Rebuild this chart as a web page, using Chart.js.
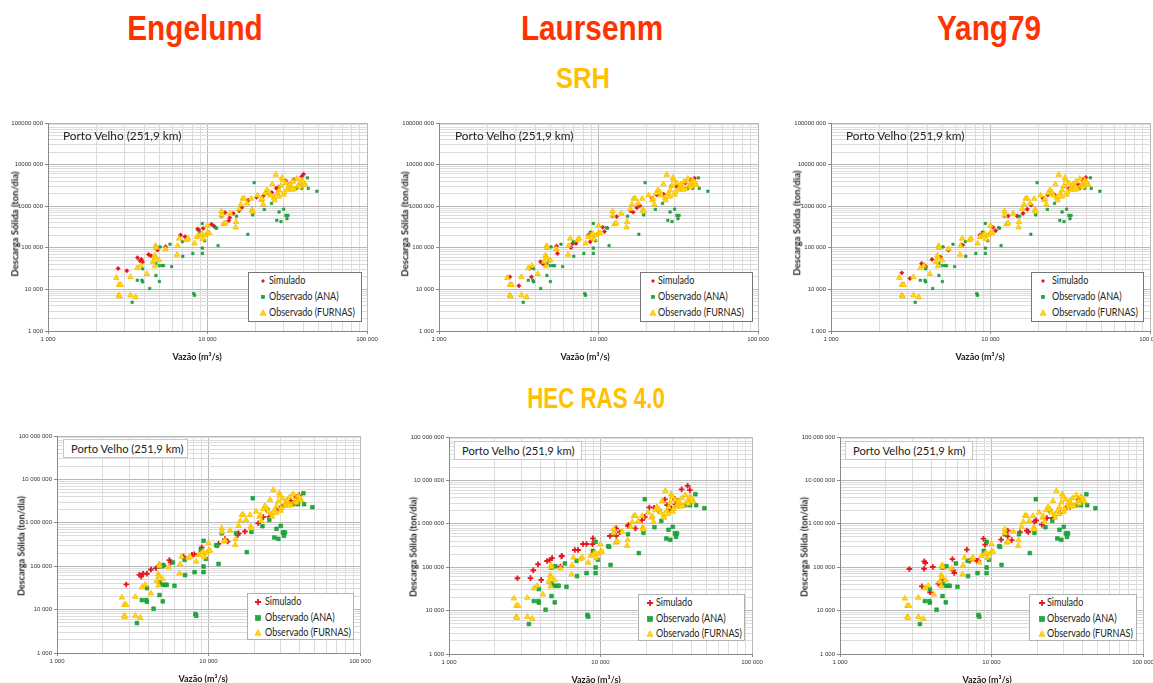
<!DOCTYPE html>
<html><head><meta charset="utf-8">
<script src="https://cdn.jsdelivr.net/npm/chart.js@4/dist/chart.umd.min.js"></script>
<style>
html,body{margin:0;padding:0;background:#fff;}
body{width:1153px;height:683px;overflow:hidden;position:relative;font-family:Lato,"Liberation Sans",sans-serif;}
canvas{position:absolute;}
.big{position:absolute;font-family:"Liberation Sans",Arial,sans-serif;font-weight:bold;white-space:nowrap;transform:translate(-50%,-50%) scaleX(0.85);line-height:1;}
.red{color:#FF3300;font-size:35px;}
.yel{color:#FFC000;font-size:30px;}
.pv{position:absolute;white-space:nowrap;color:#222;background:#fff;line-height:1;}
.leg{position:absolute;background:#fff;border:1px solid #777;box-sizing:border-box;}
.lr{position:absolute;white-space:nowrap;color:#222;line-height:1;transform-origin:0 50%;transform:scaleX(0.86);}
.ytit,.xtit{position:absolute;white-space:nowrap;font-weight:bold;color:#222;line-height:1;}
.ytit{transform:translate(-50%,-50%) rotate(-90deg);}
.xtit{transform:translate(-50%,-50%);}
svg{position:absolute;overflow:visible;}
</style></head><body>
<div class="big red" style="left:195px;top:27px">Engelund</div>
<div class="big red" style="left:592px;top:27px">Laursenm</div>
<div class="big red" style="left:989px;top:27px">Yang79</div>
<div class="big yel" style="left:583px;top:78px">SRH</div>
<div class="big yel" style="left:596px;top:398px;font-size:29px;transform:translate(-50%,-50%) scaleX(0.77)">HEC RAS 4.0</div>
<script>
// ---------- DATA ----------
// Observed data (same in all panels)
const anaQ  = [3370,3630,3920,3920,3880,4340,4750,4750,4750,4990,4990,5040,5200,5300,5820,5960,6950,7000,8090,8200,8300,8900,9280,9280,9280,9600,11240,11400,11650,12240,15200,17900,19200,19600,22700,25200,27200,28100,28900,30000,31000,32000,31500,36300,39000,42300,42800,48500,24500];
const anaQs = [4900,16600,31300,15200,16600,10500,21600,42300,98000,15500,37300,105000,37300,37300,122000,35400,140000,62300,73000,7900,7200,238000,384000,98600,73000,148000,305000,295000,113000,576000,576000,211000,617000,3680000,835000,1170000,459000,727000,427000,850000,600000,600000,500000,2680000,2680000,4800000,2680000,2290000,2000000];
const furQ  = [2680,2780,2860,2780,2810,3290,3290,3545,3630,3820,4170,4560,4680,4660,4700,4730,4750,4970,5450,6440,6500,6640,7380,7560,8300,8590,8990,9230,9360,9700,10000,10000,10250,12240,12240,12600,13900,15000,15100,15800,16200,16600,17000,17700,18800,19000,19200,20600,21700,22400,23000,23600,24300,24800,25500,26100,26300,26800,27400,28100,28900,29300,29600,30000,30300,31000,32000,32300,32800,33600,34300,35000,36300,37000,37600,39000,39500,41000,12900,22000,28000,34000,38000,40000];
const furQs = [19000,12900,12900,7200,6800,19800,7200,6500,32500,37300,23600,46100,36000,65600,58000,111600,100000,50500,93500,68000,111600,167000,153000,167000,128000,183000,200000,217000,162000,200000,340000,230000,228000,752000,608000,370000,663000,310000,420000,850000,1100000,1520000,1540000,1170000,1520000,820000,740000,1820000,1390000,1100000,2060000,2450000,2160000,1820000,3370000,1600000,1390000,5700000,2000000,2400000,3100000,4800000,4200000,1900000,2200000,3600000,2800000,2500000,3300000,2800000,3900000,2600000,4600000,3100000,3300000,4200000,3500000,3300000,390000,1500000,1700000,2500000,2900000,3800000];
// Simulated series
const engSrhQ  = [2750,3120,3640,3780,3850,3920,4270,4420,4860,5460,6780,7220,8670,8790,9390,10600,10980,12880,13600,13800,14500,15800,16400,18000,20300,22400,23900,25300,27000,28000,31000,32700,34700,39000,40000];
const engSrhQs = [31900,28000,57600,48600,52500,46000,69300,64400,88200,106000,203000,185000,283000,269000,293000,367000,334000,701000,450000,530000,670000,783000,925000,1390000,1640000,1770000,2250000,2140000,2700000,2850000,4060000,3400000,4300000,5200000,5900000];
const lauSrhQ  = [2780,3170,3710,3800,4330,4460,4600,4950,5460,5530,6720,6890,7230,8640,8870,10640,10910,13000,15950,16500,17400,18200,21700,23200,25600,28700,31000,35000,37700,40000];
const lauSrhQs = [20000,12200,31900,20000,46100,42000,40000,50500,110000,73000,102000,127000,127000,203000,140000,310000,245000,562000,770000,720000,920000,1030000,1550000,1870000,1940000,3100000,2960000,3600000,4300000,4700000];
const yanSrhQ  = [2780,3130,3700,3850,3930,4300,4870,5450,6590,6690,8580,8660,10370,10770,12900,14700,16000,17000,18000,21300,22900,25200,29000,31000,35300,37800,39600];
const yanSrhQs = [25000,18300,42000,38000,35000,52500,59800,88000,116000,116000,203000,185000,310000,258000,582000,582000,670000,843000,1070000,1550000,1870000,1870000,3070000,2700000,3400000,4300000,4900000];
const engHecQ  = [2865,3500,3600,3700,3920,4170,4500,5040,5520,5620,6850,7780,8070,9020,11640,12850,13400,15600,15800,17400,21300,23000,25200,28100,30500,32000,34900,38000,39600];
const engHecQs = [38000,63000,58000,67000,67000,84000,90000,103000,138000,122000,167000,183000,189000,270000,327000,420000,370000,527000,570000,630000,980000,1350000,1390000,2000000,2370000,2600000,3200000,3900000,4300000];
const lauHecQ  = [2830,3450,3600,3870,4060,4440,4620,4790,5440,5520,5560,6770,7110,7660,8080,8850,8920,11530,12700,12700,13400,15200,15300,17000,18800,19600,21000,22600,26600,27500,28300,29300,31000,31300,34300,37600,38900];
const lauHecQs = [55700,56000,85000,117000,51000,139000,147000,162000,103000,177000,183000,249000,249000,342000,342000,340000,462000,523000,784000,530000,640000,887000,940000,784000,1220000,1450000,2380000,2350000,3640000,2690000,2150000,2270000,3700000,2800000,6200000,7500000,6000000];
const yanHecQ  = [2870,3590,3600,3660,4100,3470,3930,4460,4760,5520,5600,5680,6870,7200,7980,8180,8850,9070,11580,12800,12800,13600,15400,17100,17500,19200,19700,21500,23200,25400,28300,31400,33000,37500,39400];
const yanHecQs = [90800,92000,136000,125000,101000,36300,26400,41700,53500,154000,84700,73500,254000,141000,141000,141000,454000,330000,431000,514000,695000,420000,640000,695000,650000,1120000,1200000,955000,1360000,1360000,1770000,2440000,2440000,3600000,3900000];
// Tick labels
const xTickValues = [1000,10000,100000];
const xTickLabels = ['1 000','10 000','100 000'];
const yTickValues = [1e3,1e4,1e5,1e6,1e7,1e8];
const yTickLabelsSrh = ['1 000','10 000','100 000','1000 000','10000 000','100000 000'];
const yTickLabelsHec = ['1 000','10 000','100 000','1 000 000','10 000 000','100 000 000'];
// Texts
const seriesNames = ['Simulado','Observado (ANA)','Observado (FURNAS)'];
const stationText = 'Porto Velho (251,9 km)';
const yTitleText = 'Descarga Sólida (ton/dia)';
const xTitleText = 'Vazão (m³/s)';

// ---------- LAYOUT ----------
const panels = [
 {L:48,R:367,T:123,B:331,q:engSrhQ,qs:engSrhQs,yl:yTickLabelsSrh,big:false,
  leg:[248,272,114,50],mx:15,tx:21,r0:9,rs:16,pv:[63,137],box:false,yt:[15,224],xt:[197,356]},
 {L:439,R:758,T:123,B:331,q:lauSrhQ,qs:lauSrhQs,yl:yTickLabelsSrh,big:false,
  leg:[640,272,113,50],mx:13,tx:18,r0:9,rs:16,pv:[455,137],box:false,yt:[405,224],xt:[585,356]},
 {L:831,R:1150,T:123,B:331,q:yanSrhQ,qs:yanSrhQs,yl:yTickLabelsSrh,big:false,
  leg:[1031,272,113,50],mx:12,tx:21,r0:9,rs:16,pv:[846,137],box:false,yt:[797,223],xt:[980,356]},
 {L:57,R:360,T:436,B:653,q:engHecQ,qs:engHecQs,yl:yTickLabelsHec,big:true,
  leg:[247,593,107,47],mx:11,tx:18,r0:9,rs:15.5,pv:[63,439,125,19],box:true,yt:[21,546],xt:[203,678]},
 {L:449,R:752,T:437,B:654,q:lauHecQ,qs:lauHecQs,yl:yTickLabelsHec,big:true,
  leg:[638,594,107,47],mx:12,tx:18,r0:9,rs:15.5,pv:[454,441,128,19],box:true,yt:[413,547],xt:[596,679]},
 {L:840,R:1143,T:437,B:654,q:yanHecQ,qs:yanHecQs,yl:yTickLabelsHec,big:true,
  leg:[1029,594,108,47],mx:13,tx:18,r0:9,rs:15.5,pv:[845,441,128,19],box:true,yt:[804,547],xt:[987,679]},
];
const PL=52, PT=10, PR=22, PB=22;
const RED='#E8161E', GREEN='#1DAE3F', GREEN_B='#12912F', YEL='#FFDD00', YEL_B='#F5B400';

function isDecade(v){const l=Math.log10(v);return Math.abs(l-Math.round(l))<1e-6;}
function logTicks(min,max){const t=[];for(let e=Math.round(Math.log10(min));e<Math.round(Math.log10(max));e++){for(let m=1;m<10;m++)t.push({value:m*Math.pow(10,e)});}t.push({value:max});return t;}
function labelFor(vals,labs,v){const i=vals.findIndex(x=>Math.abs(x-v)<1e-6*x);return i>=0?labs[i]:'';}
function pts(a,b){return a.map((x,i)=>({x:x,y:b[i]}));}

function makeSvg(kind,big,cx,cy){
  const ns='http://www.w3.org/2000/svg';
  const s=document.createElementNS(ns,'svg');
  s.setAttribute('width','10');s.setAttribute('height','10');
  s.style.left=(cx-5)+'px';s.style.top=(cy-5)+'px';
  let inner='';
  if(kind===0){
    inner = big ? `<path d="M5 2V8M2 5H8" stroke="${RED}" stroke-width="1.8"/>` : `<path d="M5 3L7 5L5 7L3 5Z" fill="${RED}"/>`;
  } else if(kind===1){
    const h = big?2.5:1.6;
    inner = `<rect x="${5-h}" y="${5-h}" width="${2*h}" height="${2*h}" fill="${GREEN}" stroke="${GREEN_B}" stroke-width="0.6"/>`;
  } else {
    inner = `<path d="M5 1.8L8 7.2H2Z" fill="${YEL}" stroke="${YEL_B}" stroke-width="0.7"/>`;
  }
  s.innerHTML=inner;
  return s;
}

panels.forEach(p=>{
  const w=p.R-p.L+PL+PR, h=p.B-p.T+PT+PB;
  const cv=document.createElement('canvas');
  cv.width=w;cv.height=h;cv.style.width=w+'px';cv.style.height=h+'px';
  cv.style.left=(p.L-PL)+'px';cv.style.top=(p.T-PT)+'px';
  document.body.appendChild(cv);
  const tickFont={family:'"Liberation Sans", Arial, sans-serif',size:6};
  const gridCol=c=>(c.tick&&isDecade(c.tick.value))?'#b9b9b9':'#dcdcdc';
  const tickCol=c=>(c.tick&&isDecade(c.tick.value))?'#8a8a8a':'rgba(0,0,0,0)';
  new Chart(cv,{
    type:'scatter',
    data:{datasets:[
      {label:seriesNames[2],data:pts(furQ,furQs),pointStyle:'triangle',pointRadius:3.2,
       backgroundColor:YEL,borderColor:YEL_B,borderWidth:0.7,order:0},
      {label:seriesNames[1],data:pts(anaQ,anaQs),pointStyle:'rect',pointRadius:p.big?2.6:1.7,
       backgroundColor:GREEN,borderColor:GREEN_B,borderWidth:0.6,order:1},
      {label:seriesNames[0],data:pts(p.q,p.qs),pointStyle:p.big?'cross':'rectRot',pointRadius:p.big?2.8:2.2,
       backgroundColor:RED,borderColor:RED,borderWidth:p.big?1.8:0.5,order:2},
    ]},
    options:{
      responsive:false,animation:false,devicePixelRatio:1,
      layout:{padding:{left:0,top:PT,right:PR,bottom:0}},
      plugins:{legend:{display:false},tooltip:{enabled:false}},
      scales:{
        x:{type:'logarithmic',min:1000,max:100000,position:'bottom',
          afterBuildTicks:s=>{s.ticks=logTicks(1000,100000);},
          afterFit:s=>{s.height=PB;},
          ticks:{autoSkip:false,maxRotation:0,minRotation:0,font:tickFont,color:'#333',padding:2,
            callback:v=>labelFor(xTickValues,xTickLabels,v)},
          grid:{color:gridCol,tickLength:3,tickColor:tickCol,lineWidth:1},
          border:{display:true,color:'#8a8a8a',width:1}},
        y:{type:'logarithmic',min:1000,max:1e8,position:'left',
          afterBuildTicks:s=>{s.ticks=logTicks(1000,1e8);},
          afterFit:s=>{s.width=PL;},
          ticks:{autoSkip:false,font:tickFont,color:'#333',padding:2,
            callback:v=>labelFor(yTickValues,p.yl,v)},
          grid:{color:gridCol,tickLength:3,tickColor:tickCol,lineWidth:1},
          border:{display:true,color:'#8a8a8a',width:1}}
      }
    }
  });
  // station label
  const pv=document.createElement('div');pv.className='pv';pv.textContent=stationText;
  if(p.box){
    pv.style.left=p.pv[0]+'px';pv.style.top=p.pv[1]+'px';pv.style.width=p.pv[2]+'px';pv.style.height=p.pv[3]+'px';
    pv.style.border='1px solid #c8c8c8';pv.style.boxSizing='border-box';pv.style.fontSize='11.2px';
    pv.style.display='flex';pv.style.alignItems='center';pv.style.paddingLeft='7px';
  } else {
    pv.style.left=p.pv[0]+'px';pv.style.top=(p.pv[1]-7)+'px';pv.style.fontSize='11.8px';pv.style.background='transparent';
  }
  document.body.appendChild(pv);
  // legend
  const lg=document.createElement('div');lg.className='leg';
  lg.style.left=p.leg[0]+'px';lg.style.top=p.leg[1]+'px';lg.style.width=p.leg[2]+'px';lg.style.height=p.leg[3]+'px';
  if(p.box){lg.style.borderColor='#b0b0b0';}
  document.body.appendChild(lg);
  seriesNames.forEach((nm,i)=>{
    const cy=p.leg[1]+p.r0+i*p.rs;
    document.body.appendChild(makeSvg(i,p.big,p.leg[0]+p.mx,cy));
    const t=document.createElement('div');t.className='lr';t.textContent=nm;
    t.style.fontSize='10.5px';
    t.style.left=(p.leg[0]+p.tx)+'px';t.style.top=(cy-6)+'px';
    document.body.appendChild(t);
  });
  // axis titles
  const yt=document.createElement('div');yt.className='ytit';yt.textContent=yTitleText;
  yt.style.left=p.yt[0]+'px';yt.style.top=p.yt[1]+'px';yt.style.fontSize=p.big?'9px':'9.5px';
  document.body.appendChild(yt);
  const xt=document.createElement('div');xt.className='xtit';xt.textContent=xTitleText;
  xt.style.left=p.xt[0]+'px';xt.style.top=p.xt[1]+'px';xt.style.fontSize='9px';
  document.body.appendChild(xt);
});
</script>
</body></html>
